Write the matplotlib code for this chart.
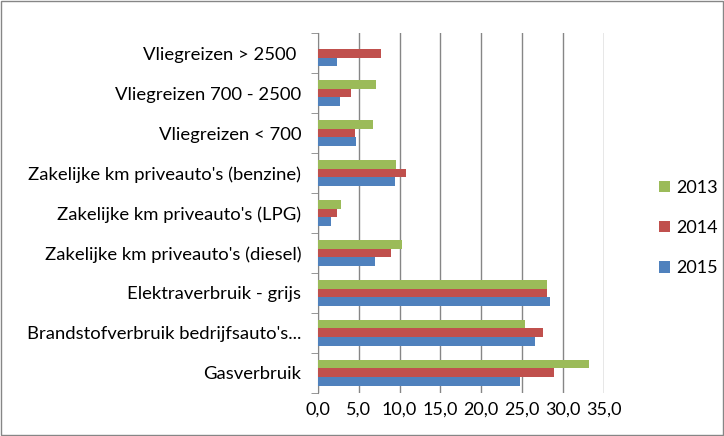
import numpy as np
import matplotlib.pyplot as plt
from matplotlib.patches import Rectangle
from matplotlib.ticker import FuncFormatter, FixedLocator

plt.rcParams["font.family"] = ["Lato", "DejaVu Sans"]

# categorieën, van onder naar boven
categories = [
    "Gasverbruik",
    "Brandstofverbruik bedrijfsauto's...",
    "Elektraverbruik - grijs",
    "Zakelijke km priveauto's (diesel)",
    "Zakelijke km priveauto's (LPG)",
    "Zakelijke km priveauto's (benzine)",
    "Vliegreizen < 700",
    "Vliegreizen 700 - 2500",
    "Vliegreizen > 2500 ",
]
years = ["2015", "2014", "2013"]
v2015 = [24.8, 26.6, 28.4, 7.0, 1.6, 9.4, 4.7, 2.7, 2.4]
v2014 = [28.9, 27.5, 28.0, 9.0, 2.3, 10.8, 4.6, 4.1, 7.7]
v2013 = [33.2, 25.4, 28.0, 10.3, 2.8, 9.6, 6.7, 7.1, 0.0]
colors = ["#4F81BD", "#C0504D", "#9BBB59"]

fig = plt.figure(figsize=(7.24, 4.36), dpi=100)
ax = fig.add_axes([0.439, 0.099, 0.395, 0.825])

y = np.arange(len(categories))
h = 0.22
for k, (vals, col, lab) in enumerate(zip([v2015, v2014, v2013], colors, years)):
    ax.barh(y + (k - 1) * h, vals, height=h, color=col, label=lab, zorder=3)

ax.set_xlim(0, 35)
ax.set_ylim(-0.5, len(categories) - 0.5)
ax.set_xticks(np.arange(0, 36, 5))
ax.xaxis.set_major_formatter(FuncFormatter(lambda v, p: f"{v:.1f}".replace(".", ",")))
ax.set_yticks(y)
ax.set_yticklabels(categories)
ax.yaxis.set_minor_locator(FixedLocator(np.arange(-0.5, len(categories), 1)))
ax.tick_params(axis="y", which="major", length=0, labelsize=13.3, pad=12, colors="#000000")
ax.tick_params(axis="y", which="minor", length=5, color="#868686", direction="out")
ax.tick_params(axis="x", length=0, labelsize=13, pad=6)
ax.grid(axis="x", color="#868686", linewidth=1, zorder=0)
for s in ["top", "right", "bottom"]:
    ax.spines[s].set_visible(False)
ax.spines["left"].set_color("#868686")

handles, labels = ax.get_legend_handles_labels()
fig.legend(handles[::-1], labels[::-1], loc="center left", bbox_to_anchor=(0.888, 0.477),
           frameon=False, fontsize=13, handlelength=0.6, handleheight=0.6,
           handletextpad=0.35, labelspacing=1.35)

fig.patches.append(Rectangle((0.002, 0.002), 0.996, 0.996, transform=fig.transFigure,
                             fill=False, edgecolor="#868686", linewidth=1))

fig.savefig("out.png", dpi=100)
